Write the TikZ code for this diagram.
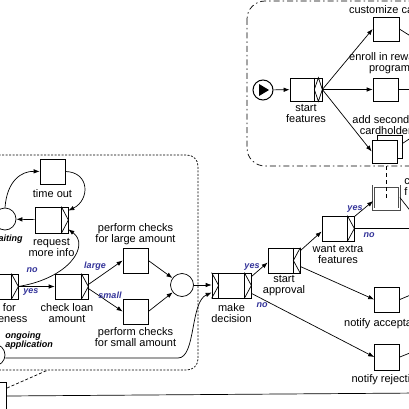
\documentclass[tikz,border=0pt]{standalone}
\usepackage{fontspec}
\setmainfont{Liberation Sans}
\usetikzlibrary{shapes,arrows,arrows.meta,positioning,calc}

\definecolor{flowblue}{RGB}{51,51,153}

% split and join decorators on a task box
\newcommand{\xorsplit}[1]{%
  \draw ($(#1.north east)+(-7,0)$) -- ($(#1.south east)+(-7,0)$);
  \draw ($(#1.north east)+(-7,0)$) -- (#1.east) -- ($(#1.south east)+(-7,0)$);}
\newcommand{\andsplit}[1]{%
  \draw ($(#1.north east)+(-7,0)$) -- ($(#1.south east)+(-7,0)$);
  \draw (#1.north east) -- ($(#1.east)+(-7,0)$) -- (#1.south east);}
\newcommand{\orsplit}[1]{%
  \draw ($(#1.north east)+(-8,0)$) -- ($(#1.south east)+(-8,0)$);
  \draw ($(#1.east)+(-8,0)$) -- ($(#1.north east)+(-4,0)$) -- (#1.east) -- ($(#1.south east)+(-4,0)$) -- cycle;}
\newcommand{\xorjoin}[1]{%
  \draw ($(#1.north west)+(7,0)$) -- ($(#1.south west)+(7,0)$);
  \draw (#1.north west) -- ($(#1.west)+(7,0)$) -- (#1.south west);}

\begin{document}
\begin{tikzpicture}[x=1pt, y=-1pt, >={Latex[length=6pt,width=4.5pt]}, line width=0.7pt,
    task/.style={rectangle, draw, fill=white, minimum width=25pt, minimum height=25pt, inner sep=0pt},
    dtask/.style={task, minimum width=33pt, minimum height=25pt},
    cond/.style={circle, draw, fill=white, minimum size=22pt, inner sep=0pt},
    lbl/.style={align=center, inner sep=0pt, font=\fontsize{11}{11}\selectfont},
    flow/.style={inner sep=0pt, text=flowblue, font=\fontsize{9}{9}\selectfont\bfseries\itshape},
    condlbl/.style={inner sep=0pt, align=left, font=\fontsize{9}{9}\selectfont\bfseries\itshape}]
    \useasboundingbox (0,0) rectangle (409,409);
    \clip (0,0) rectangle (409,409);

    % extra features sub-net
    \draw [dash pattern=on 6pt off 3pt on 1.5pt off 3pt, rounded corners=18pt] (247,1) rectangle (470,166);
    \node (startc) [cond, minimum size=20pt, line width=1pt] at (263,90) {};
    \fill (startc.center) ++(-4,-6) -- ++(0,12) -- ++(10,-6) -- cycle;
    \node (startfeat) [dtask, minimum width=32pt, minimum height=23pt] at (306,89.5) {};
    \orsplit{startfeat}
    \node (startfeat-l) [lbl, below=3pt of startfeat] {start\\features};
    \node (custcard) [task, minimum width=26pt, minimum height=24pt] at (386,29) {};
    \node (custcard-l) [lbl, above=3pt of custcard] {customize card};
    \node (enroll) [task, minimum height=23pt] at (385.5,89.5) {};
    \node (enroll-l) [lbl, above=4pt of enroll, xshift=4pt] {enroll in rewards\\program};
    \node (addsec2) [task, minimum height=23pt] at (389.5,146.5) {};
    \node (addsec) [task, minimum height=23pt] at (384.5,151.5) {};
    \node (addsec-l) [lbl, above=5pt of addsec, xshift=4pt] {add secondary\\cardholders};

    \coordinate (custcard-o) at (420,42);
    \coordinate (enroll-o) at (420,89.5);
    \coordinate (addsec-o) at (420,132);
    \draw [->] (startc) -- (startfeat);
    \draw [->] (startfeat.east) -- (custcard.west);
    \draw [->] (startfeat.east) -- (enroll.west);
    \draw [->] (startfeat.east) -- (addsec.west);
    \draw (custcard.east) -- (custcard-o);
    \draw (enroll.east) -- (enroll-o);
    \draw ($(addsec2.east)+(0,-3)$) -- (addsec-o);

    % composite task
    \coordinate (featnet-b) at (386.5,166);
    \node (custfeat) [task, draw=black!70, double=white, double distance=1.6pt, minimum width=26pt, minimum height=23pt] at (386.5,197.5) {};
    \draw [dash pattern=on 4pt off 3pt] (featnet-b) -- (custfeat.center);
    \node (custfeat-l) [lbl, anchor=north west, align=left] at (404,178) {c\\f};
    \coordinate (custfeat-o) at (416,218);
    \draw (custfeat.east) -- (custfeat-o);

    % approval part
    \node (wantext) [dtask, minimum width=32pt] at (338,228.5) {};
    \xorsplit{wantext}
    \node (wantext-l) [lbl, below=4pt of wantext] {want extra\\features};
    \node (startappr) [dtask, minimum width=32pt] at (284,260.5) {};
    \andsplit{startappr}
    \node (startappr-l) [lbl, below=2pt of startappr] {start\\approval};
    \node (makedec) [dtask, minimum width=39pt] at (231.5,285.5) {};
    \xorjoin{makedec}
    \xorsplit{makedec}
    \node (makedec-l) [lbl, below=5pt of makedec] {make\\decision};
    \node (notacc) [task] at (387,299.5) {};
    \node (notacc-l) [lbl, below=6pt of notacc] {notify acceptance};
    \node (notrej) [task, minimum height=26pt] at (387,357) {};
    \node (notrej-l) [lbl, below=4pt of notrej] {notify rejection};

    \coordinate (wantext-o) at (420,228.5);
    \coordinate (notacc-o) at (420,291);
    \coordinate (notrej-o) at (420,349);
    \draw [->] ($(wantext.north east)+(0,1)$) -- ($(custfeat.west)+(0,3.5)$);
    \node (yes3) [flow] at (355,209) {yes};
    \draw (wantext.east) -- (wantext-o);
    \node (no3) [flow] at (369,235) {no};
    \draw [->] ($(startappr.north east)+(0,3)$) -- ($(wantext.west)+(0,3)$);
    \draw [->] ($(startappr.east)+(0,6)$) -- (notacc.west);
    \draw [->] ($(makedec.north east)+(0,4)$) -- ($(startappr.west)+(0,2)$);
    \node (yes2) [flow] at (252,267) {yes};
    \draw [->] ($(makedec.south east)+(0,-5)$) -- (notrej.west);
    \node (no2) [flow] at (262,305) {no};
    \draw (notacc.east) -- (notacc-o);
    \draw (notrej.east) -- (notrej-o);

    % checking sub-net
    \draw [dash pattern=on 2pt off 1.5pt, rounded corners=11pt] (-40,155) rectangle (198,370);
    \node (timeout) [task] at (52.5,171.5) {};
    \node (timeout-l) [lbl, below=5pt of timeout] {time out};
    \node (reqinfo) [dtask, minimum height=26pt] at (51.5,220) {};
    \xorsplit{reqinfo}
    \node (reqinfo-l) [lbl, below=5pt of reqinfo] {request\\more info};
    \node (waiting) [cond] at (5,219) {};
    \node (waiting-l) [condlbl, anchor=east] at (23,239.5) {waiting};
    \node (checkcomp) [dtask] at (1.5,286.5) {};
    \xorsplit{checkcomp}
    \node (checkcomp-l) [lbl, below=4pt of checkcomp, xshift=-8pt] {check for\\completeness};
    \node (checkloan) [dtask] at (71.5,286.5) {};
    \xorsplit{checkloan}
    \node (checkloan-l) [lbl, below=4pt of checkloan, xshift=-4.5pt] {check loan\\amount};
    \node (large) [task] at (135.5,260.5) {};
    \node (large-l) [lbl, above=3pt of large] {perform checks\\for large amount};
    \node (small) [task] at (135.5,311.5) {};
    \node (small-l) [lbl, below=3pt of small] {perform checks\\for small amount};
    \node (joinc) [cond, minimum size=23pt] at (182,285) {};
    \node (ongoing) [cond] at (-6,355) {};
    \node (ongoing-l) [condlbl, anchor=west] at (5,341) {ongoing\\application};

    \draw [->] (reqinfo) -- (waiting);
    \draw [->] (waiting.north) .. controls (7,180) and (22,171) .. (timeout.west);
    \draw [->] (timeout.east) .. controls (90,172) and (90,200) .. ($(reqinfo.north east)+(0,4)$);
    \draw [->] (checkcomp.east) .. controls (70,278) and (90,245) .. ($(reqinfo.south east)+(0,-4)$);
    \node (no1) [flow] at (32,270) {no};
    \draw [->] (checkcomp) -- (checkloan);
    \node (yes1) [flow] at (31,292.5) {yes};
    \draw [->] ($(checkloan.east)+(0,-2)$) -- (large.west);
    \node (large-f) [flow] at (95,266.5) {large};
    \draw [->] ($(checkloan.east)+(0,2)$) -- (small.west);
    \node (small-f) [flow] at (110,295) {small};
    \draw [->] (large.east) -- (joinc);
    \draw [->] (small.east) -- (joinc);
    \draw [->] (joinc) -- (joinc -| makedec.west);
    \draw [->] ($(ongoing.east)+(0,3)$) -- (178,358) .. controls (196,358) and (190,302) .. ($(makedec.west)+(0,7)$);

    % enclosing task
    \node (apptask) [task, minimum width=30pt, minimum height=40pt, anchor=north east] at (7,382) {};
    \coordinate (apptask-o) at (420,393);
    \coordinate (checknet-b) at (48,370);
    \draw [dash pattern=on 3pt off 2pt] ($(apptask.north east)+(0,6)$) -- (checknet-b);
    \draw ($(apptask.north east)+(0,14)$) -- (apptask-o);
\end{tikzpicture}
\end{document}
